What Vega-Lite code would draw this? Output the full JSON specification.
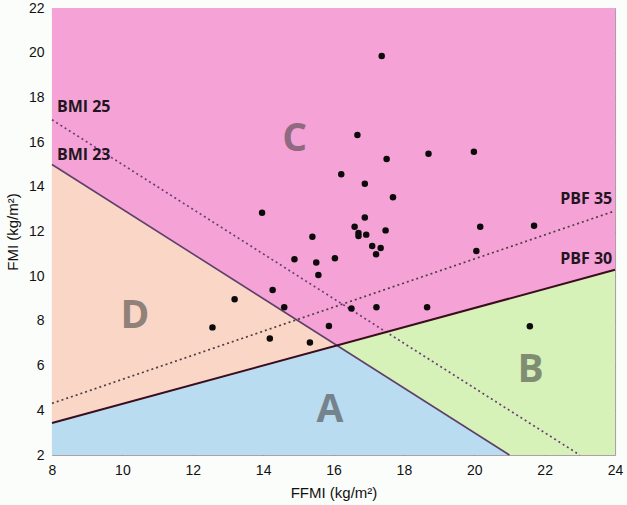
{
  "$schema": "https://vega.github.io/schema/vega-lite/v6.json",
  "width": 563,
  "height": 447,
  "autosize": "none",
  "padding": {"left": 52, "top": 8, "right": 12, "bottom": 50},
  "background": "#fbfdfb",
  "config": {
    "view": {"stroke": "#c8c8c8", "strokeWidth": 1},
    "axis": {
      "grid": true,
      "gridColor": "#703050",
      "gridOpacity": 0.27,
      "gridWidth": 1.2,
      "ticks": false,
      "domain": false,
      "labelFlush": false,
      "labelFont": "Liberation Sans",
      "labelFontSize": 14,
      "labelColor": "#111",
      "titleFont": "Liberation Sans",
      "titleFontSize": 15,
      "titleFontWeight": "normal",
      "titleColor": "#111",
      "zindex": 1
    }
  },
  "datasets": {
    "regions": [
      {"region": "A", "x": 8, "top": 3.4286, "bottom": 2},
      {"region": "A", "x": 16.1, "top": 6.9, "bottom": 2},
      {"region": "A", "x": 21, "top": 2, "bottom": 2},
      {"region": "B", "x": 16.1, "top": 6.9, "bottom": 6.9},
      {"region": "B", "x": 21, "top": 9.0, "bottom": 2},
      {"region": "B", "x": 24, "top": 10.2857, "bottom": 2},
      {"region": "C", "x": 8, "top": 22, "bottom": 15},
      {"region": "C", "x": 16.1, "top": 22, "bottom": 6.9},
      {"region": "C", "x": 24, "top": 22, "bottom": 10.2857},
      {"region": "D", "x": 8, "top": 15, "bottom": 3.4286},
      {"region": "D", "x": 16.1, "top": 6.9, "bottom": 6.9}
    ],
    "lines": [
      {"line": "BMI 23", "x": 8, "y": 15},
      {"line": "BMI 23", "x": 21, "y": 2},
      {"line": "BMI 25", "x": 8, "y": 17},
      {"line": "BMI 25", "x": 23, "y": 2},
      {"line": "PBF 30", "x": 8, "y": 3.4286},
      {"line": "PBF 30", "x": 24, "y": 10.2857},
      {"line": "PBF 35", "x": 8, "y": 4.3077},
      {"line": "PBF 35", "x": 24, "y": 12.923}
    ],
    "points": [
      {"ffmi": 17.37, "fmi": 19.85},
      {"ffmi": 16.68, "fmi": 16.32},
      {"ffmi": 17.51, "fmi": 15.24},
      {"ffmi": 18.7, "fmi": 15.48},
      {"ffmi": 19.99, "fmi": 15.57},
      {"ffmi": 16.22, "fmi": 14.56},
      {"ffmi": 16.89, "fmi": 14.14},
      {"ffmi": 17.69, "fmi": 13.53},
      {"ffmi": 13.97, "fmi": 12.84},
      {"ffmi": 16.89, "fmi": 12.63},
      {"ffmi": 16.6, "fmi": 12.21},
      {"ffmi": 16.71, "fmi": 11.93},
      {"ffmi": 16.71, "fmi": 11.8},
      {"ffmi": 16.93, "fmi": 11.86},
      {"ffmi": 17.48, "fmi": 12.05},
      {"ffmi": 15.4, "fmi": 11.77},
      {"ffmi": 17.1, "fmi": 11.35},
      {"ffmi": 17.34, "fmi": 11.26},
      {"ffmi": 17.21, "fmi": 10.98},
      {"ffmi": 14.89, "fmi": 10.76},
      {"ffmi": 15.51, "fmi": 10.61},
      {"ffmi": 16.04, "fmi": 10.8},
      {"ffmi": 15.57, "fmi": 10.05},
      {"ffmi": 14.27, "fmi": 9.38},
      {"ffmi": 14.6, "fmi": 8.61},
      {"ffmi": 13.19, "fmi": 8.97},
      {"ffmi": 12.56, "fmi": 7.71},
      {"ffmi": 14.19, "fmi": 7.21},
      {"ffmi": 15.33, "fmi": 7.03},
      {"ffmi": 16.51, "fmi": 8.55},
      {"ffmi": 17.22, "fmi": 8.61},
      {"ffmi": 18.66, "fmi": 8.61},
      {"ffmi": 15.87, "fmi": 7.77},
      {"ffmi": 21.58, "fmi": 7.76},
      {"ffmi": 20.06, "fmi": 11.13},
      {"ffmi": 20.17, "fmi": 12.21},
      {"ffmi": 21.7, "fmi": 12.26}
    ],
    "bigLetters": [
      {"label": "A", "x": 15.9, "y": 4.0},
      {"label": "B", "x": 21.6, "y": 5.8},
      {"label": "C", "x": 14.9, "y": 16.15},
      {"label": "D", "x": 10.36, "y": 8.2}
    ],
    "leftLabels": [
      {"label": "BMI 25", "x": 8.14, "y": 17.57},
      {"label": "BMI 23", "x": 8.14, "y": 15.42}
    ],
    "rightLabels": [
      {"label": "PBF 35", "x": 23.92, "y": 13.44},
      {"label": "PBF 30", "x": 23.92, "y": 10.76}
    ]
  },
  "layer": [
    {
      "data": {"name": "regions"},
      "transform": [{"filter": "datum.region === 'C'"}],
      "mark": {"type": "area", "color": "#f5a3d6"},
      "encoding": {
        "x": {"field": "x", "type": "quantitative", "scale": {"domain": [8, 24], "nice": false}, "axis": {"values": [8, 10, 12, 14, 16, 18, 20, 22, 24], "title": "FFMI (kg/m²)", "labelPadding": 8, "titlePadding": 8}},
        "y": {"field": "top", "type": "quantitative", "stack": null, "scale": {"domain": [2, 22], "nice": false}, "axis": {"values": [2, 4, 6, 8, 10, 12, 14, 16, 18, 20, 22], "title": "FMI (kg/m²)", "labelPadding": 8, "titlePadding": 8}},
        "y2": {"field": "bottom"}
      }
    },
    {
      "data": {"name": "regions"},
      "transform": [{"filter": "datum.region === 'D'"}],
      "mark": {"type": "area", "color": "#f9d6c6"},
      "encoding": {
        "x": {"field": "x", "type": "quantitative"},
        "y": {"field": "top", "type": "quantitative", "stack": null},
        "y2": {"field": "bottom"}
      }
    },
    {
      "data": {"name": "regions"},
      "transform": [{"filter": "datum.region === 'A'"}],
      "mark": {"type": "area", "color": "#b9dcf0"},
      "encoding": {
        "x": {"field": "x", "type": "quantitative"},
        "y": {"field": "top", "type": "quantitative", "stack": null},
        "y2": {"field": "bottom"}
      }
    },
    {
      "data": {"name": "regions"},
      "transform": [{"filter": "datum.region === 'B'"}],
      "mark": {"type": "area", "color": "#d6f2b8"},
      "encoding": {
        "x": {"field": "x", "type": "quantitative"},
        "y": {"field": "top", "type": "quantitative", "stack": null},
        "y2": {"field": "bottom"}
      }
    },
    {
      "data": {"name": "lines"},
      "transform": [{"filter": "datum.line === 'BMI 25'"}],
      "mark": {"type": "line", "color": "#6b3d78", "strokeWidth": 1.7, "strokeDash": [2, 3]},
      "encoding": {"x": {"field": "x", "type": "quantitative"}, "y": {"field": "y", "type": "quantitative"}}
    },
    {
      "data": {"name": "lines"},
      "transform": [{"filter": "datum.line === 'PBF 35'"}],
      "mark": {"type": "line", "color": "#4e3d44", "strokeWidth": 1.7, "strokeDash": [2, 3]},
      "encoding": {"x": {"field": "x", "type": "quantitative"}, "y": {"field": "y", "type": "quantitative"}}
    },
    {
      "data": {"name": "lines"},
      "transform": [{"filter": "datum.line === 'BMI 23'"}],
      "mark": {"type": "line", "color": "#5e3f6a", "strokeWidth": 1.6},
      "encoding": {"x": {"field": "x", "type": "quantitative"}, "y": {"field": "y", "type": "quantitative"}}
    },
    {
      "data": {"name": "lines"},
      "transform": [{"filter": "datum.line === 'PBF 30'"}],
      "mark": {"type": "line", "color": "#3a0c1e", "strokeWidth": 2},
      "encoding": {"x": {"field": "x", "type": "quantitative"}, "y": {"field": "y", "type": "quantitative"}}
    },
    {
      "data": {"name": "points"},
      "mark": {"type": "circle", "size": 42, "color": "#0d0a0c", "opacity": 1},
      "encoding": {"x": {"field": "ffmi", "type": "quantitative"}, "y": {"field": "fmi", "type": "quantitative"}}
    },
    {
      "data": {"name": "bigLetters"},
      "mark": {"type": "text", "font": "Open Sans", "fontSize": 39, "fontWeight": "bold", "color": "#3c3c3c", "opacity": 0.55, "align": "center", "baseline": "middle"},
      "encoding": {"x": {"field": "x", "type": "quantitative"}, "y": {"field": "y", "type": "quantitative"}, "text": {"field": "label"}}
    },
    {
      "data": {"name": "leftLabels"},
      "mark": {"type": "text", "font": "Open Sans", "fontSize": 16, "fontWeight": "bold", "color": "#221520", "align": "left", "baseline": "middle"},
      "encoding": {"x": {"field": "x", "type": "quantitative"}, "y": {"field": "y", "type": "quantitative"}, "text": {"field": "label"}}
    },
    {
      "data": {"name": "rightLabels"},
      "mark": {"type": "text", "font": "Open Sans", "fontSize": 16, "fontWeight": "bold", "color": "#221520", "align": "right", "baseline": "middle"},
      "encoding": {"x": {"field": "x", "type": "quantitative"}, "y": {"field": "y", "type": "quantitative"}, "text": {"field": "label"}}
    }
  ]
}
